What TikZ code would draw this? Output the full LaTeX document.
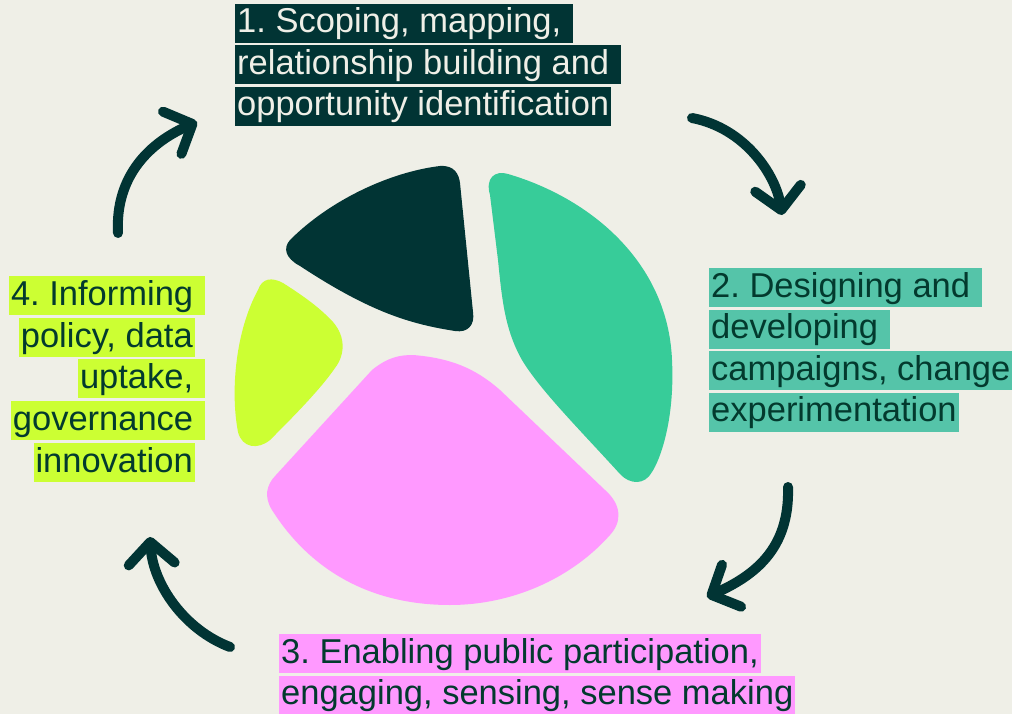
\documentclass[tikz,border=0pt]{standalone}
\usepackage{fontspec}
\setmainfont{Liberation Sans}
\usetikzlibrary{arrows.meta}
\frenchspacing

\definecolor{paper}{HTML}{EFEFE7}
\definecolor{pine}{HTML}{013434}
\definecolor{mint}{HTML}{37CC99}
\definecolor{minthl}{HTML}{55C4A9}
\definecolor{lime}{HTML}{CCFF33}
\definecolor{orchid}{HTML}{FF99FF}
\definecolor{ink}{HTML}{033A2E}

\newcommand{\tsp}{\kern0.278em}

\begin{document}
\begin{tikzpicture}[x=1pt, y=-1pt,
  hl/.style={inner xsep=2pt, inner ysep=2pt, text height=27pt, text depth=8pt,
    font=\fontsize{34.5}{41.5}\selectfont, text=ink},
  cyclearrow/.style={draw=pine, line width=10pt, line cap=round,
    -{Straight Barb[length=22pt, width=46pt, round]}}]

  % Background
  \fill[paper] (0,0) rectangle (1012,714);
  \useasboundingbox (0,0) rectangle (1012,714);

  % Dark segment
  \fill[pine] (290,240) .. controls (330,200) and (390,172) .. (440,166)
    .. controls (455,165) and (459,175) .. (460,183)
    -- (473,312)
    .. controls (475,325) and (468,333) .. (455,331)
    .. controls (410,324) and (370,312) .. (300,266)
    .. controls (285,258) and (283,248) .. cycle;

  % Mint segment
  \fill[mint] (490,195) .. controls (485,178) and (495,170) .. (508,174)
    .. controls (590,198) and (668,262) .. (672,360)
    .. controls (675,420) and (660,460) .. (652,472)
    .. controls (645,485) and (630,485) .. (620,474)
    .. controls (580,430) and (540,390) .. (522,360)
    .. controls (505,330) and (502,300) .. (498,260) -- cycle;

  % Pink segment
  \fill[orchid] (413,355) .. controls (450,358) and (475,368) .. (500,390)
    -- (605,490)
    .. controls (622,505) and (622,522) .. (610,535)
    .. controls (570,580) and (510,605) .. (450,605)
    .. controls (370,605) and (310,570) .. (272,510)
    .. controls (264,497) and (266,485) .. (276,475)
    -- (372,370)
    .. controls (388,357) and (400,355) .. cycle;

  % Lime segment
  \fill[lime] (258,290) .. controls (262,278) and (272,277) .. (283,283)
    .. controls (305,297) and (320,308) .. (333,322)
    .. controls (346,337) and (345,355) .. (335,368)
    .. controls (320,390) and (290,420) .. (270,440)
    .. controls (258,450) and (242,448) .. (238,432)
    .. controls (230,390) and (236,330) .. cycle;

  % Step 1
  \node[hl, fill=pine, text=paper, anchor=base west] (s1a) at (235,33) {1. Scoping, mapping,\tsp};
  \node[hl, fill=pine, text=paper, anchor=base west] (s1b) at (235,74.5) {relationship building and\tsp};
  \node[hl, fill=pine, text=paper, anchor=base west] (s1c) at (235,116) {opportunity identification};

  % Step 2
  \node[hl, fill=minthl, anchor=base west] (s2a) at (709,297) {2. Designing and\tsp};
  \node[hl, fill=minthl, anchor=base west] (s2b) at (709,338.5) {developing\tsp};
  \node[hl, fill=minthl, anchor=base west] (s2c) at (709,380) {campaigns, change};
  \node[hl, fill=minthl, anchor=base west] (s2d) at (709,421.5) {experimentation};

  % Step 3
  \node[hl, fill=orchid, anchor=base west] (s3a) at (279,663) {3. Enabling public participation,};
  \node[hl, fill=orchid, anchor=base west] (s3b) at (279,704.5) {engaging, sensing, sense making};

  % Step 4
  \node[hl, fill=lime, anchor=base east] (s4a) at (205,305) {4. Informing\tsp};
  \node[hl, fill=lime, anchor=base east] (s4b) at (195,347) {policy, data};
  \node[hl, fill=lime, anchor=base east] (s4c) at (205,388) {uptake,\tsp};
  \node[hl, fill=lime, anchor=base east] (s4d) at (205,430) {governance\tsp};
  \node[hl, fill=lime, anchor=base east] (s4e) at (195,472) {innovation};

  % Arrow ends
  \coordinate (a41) at (118,233);
  \coordinate (a14) at (197,122);
  \coordinate (a12) at (692,118);
  \coordinate (a21) at (782,215);
  \coordinate (a23) at (788,487);
  \coordinate (a32) at (707,597);
  \coordinate (a34) at (230,647);
  \coordinate (a43) at (150,537);

  % Cycle arrows
  \draw[cyclearrow] (a41) .. controls (115,175) and (151,142) .. (a14);
  \draw[cyclearrow] (a12) .. controls (745,128) and (776,175) .. (a21);
  \draw[cyclearrow] (a23) .. controls (790,550) and (753,576) .. (a32);
  \draw[cyclearrow] (a34) .. controls (185,630) and (153,585) .. (a43);

\end{tikzpicture}
\end{document}
